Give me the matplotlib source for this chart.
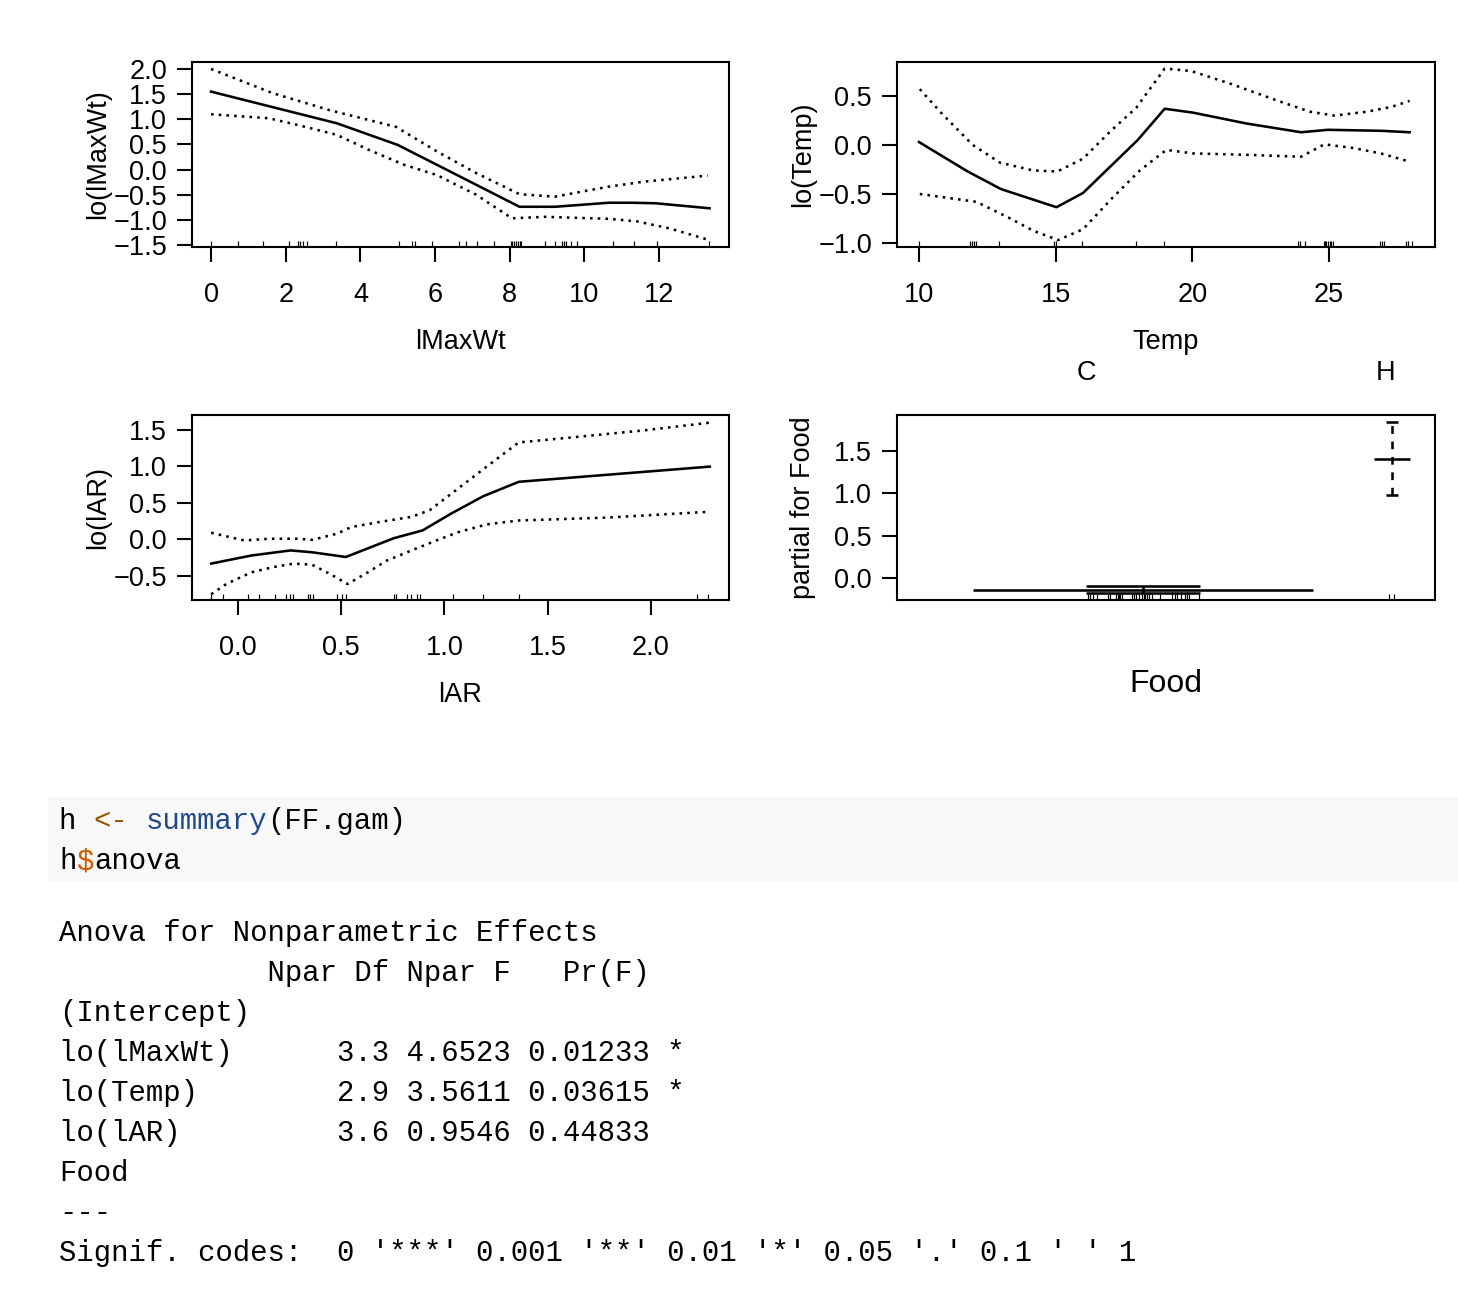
import matplotlib
matplotlib.use("Agg")
import matplotlib.pyplot as plt
from matplotlib.patches import Rectangle
import matplotlib.transforms as mtrans

W, H = 1458, 1310
DPI = 100

# ---------------- data ----------------
lmaxwt_fit_x = [0, 3.37, 5.0, 8.26, 9.21, 10.65, 11.3, 11.9, 13.35]
lmaxwt_fit = [1.55, 0.92, 0.49, -0.74, -0.74, -0.66, -0.66, -0.67, -0.77]
lmaxwt_up_x = [0, 1.65, 3.18, 4.95, 6.05, 7.1, 8.26, 9.2, 10.65, 11.6, 13.3]
lmaxwt_up = [2.0, 1.52, 1.18, 0.85, 0.36, -0.07, -0.49, -0.54, -0.34, -0.24, -0.12]
lmaxwt_lo_x = [0, 1.55, 2.3, 3.37, 4.23, 5.19, 6.05, 7.1, 8.06, 8.93, 10.65, 11.4, 12.28, 13.33]
lmaxwt_lo = [1.1, 1.02, 0.89, 0.69, 0.39, 0.09, -0.11, -0.5, -0.97, -0.94, -0.98, -1.03, -1.17, -1.4]
lmaxwt_rug = [0, 0.71, 1.40, 2.08, 2.32, 2.39, 2.46, 2.58, 3.34, 5.02, 5.38, 5.45, 5.91,
              6.63, 6.82, 7.11, 7.57, 8.03, 8.07, 8.12, 8.17, 8.22, 8.28, 8.31, 8.93, 9.2,
              9.41, 9.45, 9.5, 9.65, 9.81, 10.77, 11.32, 11.94, 13.33]
lmaxwt_xticks = [0, 2, 4, 6, 8, 10, 12]
lmaxwt_yticks = [-1.5, -1.0, -0.5, 0.0, 0.5, 1.0, 1.5, 2.0]

temp_fit_x = [10, 11.78, 13.0, 15.03, 16.0, 18.0, 18.99, 20.03, 21.97, 23.98, 24.96, 26.9, 27.95]
temp_fit = [0.03, -0.27, -0.45, -0.635, -0.49, 0.05, 0.37, 0.33, 0.22, 0.13, 0.155, 0.145, 0.13]
temp_up_x = [10.03, 10.87, 11.97, 12.96, 14.18, 15.06, 16.0, 17.04, 17.95, 18.47, 18.99, 19.96,
             21.45, 23.14, 24.3, 25.2, 26.4, 27.3, 27.95]
temp_up = [0.57, 0.31, 0.0, -0.18, -0.26, -0.27, -0.14, 0.15, 0.38, 0.58, 0.78, 0.755,
           0.62, 0.45, 0.34, 0.30, 0.34, 0.39, 0.45]
temp_lo_x = [10.03, 12.1, 13.27, 14.18, 15.09, 16.0, 17.04, 18.08, 19.05, 20.03, 21.97, 23.98,
             24.83, 25.87, 26.9, 27.95]
temp_lo = [-0.50, -0.58, -0.74, -0.875, -0.97, -0.86, -0.55, -0.26, -0.05, -0.086, -0.10, -0.12,
           0.007, -0.03, -0.086, -0.17]
temp_rug = [10, 11.87, 11.95, 12.01, 12.08, 12.92, 14.94, 15.0, 15.96, 17.95, 18.96, 23.86,
            23.95, 24.12, 24.81, 24.86, 24.91, 24.96, 25.03, 25.09, 25.16, 26.88, 26.94, 27.01,
            27.82, 27.88, 28.05]
temp_xticks = [10, 15, 20, 25]
temp_yticks = [-1.0, -0.5, 0.0, 0.5]

lar_fit_x = [-0.13, 0.064, 0.254, 0.358, 0.522, 0.755, 0.894, 1.032, 1.188, 1.36, 2.285]
lar_fit = [-0.33, -0.22, -0.15, -0.175, -0.24, 0.018, 0.124, 0.354, 0.593, 0.79, 0.998]
lar_up_x = [-0.13, 0.03, 0.15, 0.29, 0.36, 0.48, 0.548, 0.686, 0.84, 0.928, 1.067, 1.205, 1.36,
            1.533, 1.965, 2.285]
lar_up = [0.092, -0.014, 0.01, 0.01, -0.005, 0.08, 0.17, 0.24, 0.31, 0.40, 0.70, 1.0, 1.33,
          1.375, 1.494, 1.60]
lar_lo_x = [-0.13, -0.057, 0.064, 0.168, 0.27, 0.358, 0.444, 0.53, 0.617, 0.72, 0.84, 0.96,
            1.067, 1.205, 1.36, 1.79, 2.285]
lar_lo = [-0.75, -0.61, -0.45, -0.38, -0.33, -0.345, -0.47, -0.61, -0.47, -0.29, -0.15, -0.014,
          0.10, 0.207, 0.26, 0.30, 0.38]
lar_rug = [-0.13, -0.074, 0.047, 0.102, 0.181, 0.233, 0.254, 0.268, 0.34, 0.349, 0.361, 0.479,
           0.505, 0.522, 0.755, 0.767, 0.819, 0.838, 0.868, 0.88, 1.04, 1.188, 1.36, 2.225, 2.277]
lar_xticks = [0.0, 0.5, 1.0, 1.5, 2.0]
lar_yticks = [-0.5, 0.0, 0.5, 1.0, 1.5]

food_levels = ["C", "H"]
food_fit = [-0.138, 1.41]
food_upper = [-0.092, 1.84]
food_lower = [-0.183, 0.984]
food_rug = [0.3545, 0.3594, 0.3643, 0.3717, 0.3915, 0.3964, 0.4063, 0.4100, 0.4125, 0.4149,
            0.4174, 0.4365, 0.4408, 0.4445, 0.4495, 0.4557, 0.4594, 0.4618, 0.4643, 0.4692,
            0.4742, 0.4890, 0.5112, 0.5161, 0.5210, 0.5272, 0.5346, 0.5383, 0.5433, 0.5605,
            0.914, 0.924]
food_yticks = [0.0, 0.5, 1.0, 1.5]

code_lines = [
    [("h ", "#000000"), ("<-", "#8f5902"), (" ", "#000000"), ("summary", "#204a87"), ("(FF.gam)", "#000000")],
    [("h", "#000000"), ("$", "#ce5c00"), ("anova", "#000000")],
]
output_lines = [
    "Anova for Nonparametric Effects",
    "            Npar Df Npar F   Pr(F)",
    "(Intercept)",
    "lo(lMaxWt)      3.3 4.6523 0.01233 *",
    "lo(Temp)        2.9 3.5611 0.03615 *",
    "lo(lAR)         3.6 0.9546 0.44833",
    "Food",
    "---",
    "Signif. codes:  0 '***' 0.001 '**' 0.01 '*' 0.05 '.' 0.1 ' ' 1",
]

# ---------------- style ----------------
SANS = ["Liberation Sans", "DejaVu Sans"]
MONO = ["Liberation Mono", "DejaVu Sans Mono"]
TICK_FS = 19.5
LAB_FS = 19.5
LW = 1.5      # axis / tick width, pt
DLW = 1.85    # data line width, pt
px = 72.0 / DPI  # points per pixel

fig = plt.figure(figsize=(W / DPI, H / DPI), dpi=DPI)
fig.patch.set_facecolor("white")


def make_ax(l, r, t, b):
    return fig.add_axes([l / W, 1 - b / H, (r - l) / W, (b - t) / H])


def style(ax, xlim, ylim, xticks, yticks, xlabel, ylabel, box_w, box_h):
    ax.set_xlim(*xlim)
    ax.set_ylim(*ylim)
    for s in ax.spines.values():
        s.set_linewidth(LW)
    ax.tick_params(axis="both", direction="out", length=15 * px, width=LW,
                   labelsize=TICK_FS, top=False, right=False)
    ax.tick_params(axis="x", pad=20 * px)
    ax.tick_params(axis="y", pad=10 * px)
    if xticks is not None:
        ax.set_xticks(xticks)
        ax.set_xticklabels([str(v) for v in xticks])
    ax.set_yticks(yticks)
    ax.set_yticklabels([f"{v:.1f}".replace("-", "\u2212") for v in yticks])
    for lab in ax.get_xticklabels() + ax.get_yticklabels():
        lab.set_family(SANS)
    if xlabel:
        ax.set_xlabel(xlabel, fontsize=LAB_FS, family=SANS)
        ax.xaxis.label.set_va("center")
        ax.xaxis.set_label_coords(0.5, -95 / box_h)
    ax.set_ylabel(ylabel, fontsize=LAB_FS, family=SANS)
    ax.yaxis.label.set_va("center")
    ax.yaxis.set_label_coords(-94 / box_w, 0.5)


def rug(ax, xs):
    tr = mtrans.blended_transform_factory(ax.transData, ax.transAxes)
    ax.vlines(xs, 0, 0.03, transform=tr, color="black", linewidth=1.2 * px)


DOT = (0, (1, 2))


def smooth_panel(ax, fx, fy, ux, uy, lx, ly):
    ax.plot(fx, fy, color="black", lw=DLW, solid_joinstyle="round")
    ax.plot(ux, uy, color="black", lw=DLW, linestyle=DOT)
    ax.plot(lx, ly, color="black", lw=DLW, linestyle=DOT)


# Panel 1: lMaxWt
ax1 = make_ax(192, 729, 62, 247)
smooth_panel(ax1, lmaxwt_fit_x, lmaxwt_fit, lmaxwt_up_x, lmaxwt_up, lmaxwt_lo_x, lmaxwt_lo)
rug(ax1, lmaxwt_rug)
style(ax1, (-0.51, 13.87), (-1.54, 2.139), lmaxwt_xticks, lmaxwt_yticks,
      "lMaxWt", "lo(lMaxWt)", 537, 185)

# Panel 2: Temp
ax2 = make_ax(897, 1435, 62, 247)
smooth_panel(ax2, temp_fit_x, temp_fit, temp_up_x, temp_up, temp_lo_x, temp_lo)
rug(ax2, temp_rug)
style(ax2, (9.195, 28.88), (-1.041, 0.847), temp_xticks, temp_yticks,
      "Temp", "lo(Temp)", 538, 185)

# Panel 3: lAR
ax3 = make_ax(192, 729, 415, 600)
smooth_panel(ax3, lar_fit_x, lar_fit, lar_up_x, lar_up, lar_lo_x, lar_lo)
rug(ax3, lar_rug)
style(ax3, (-0.223, 2.378), (-0.829, 1.705), lar_xticks, lar_yticks,
      "lAR", "lo(lAR)", 537, 185)
ax3.set_xticklabels([f"{v:.1f}" for v in lar_xticks])
for lab in ax3.get_xticklabels():
    lab.set_family(SANS)

# Panel 4: Food
ax4 = make_ax(897, 1435, 415, 600)
food_center = [0.457, 0.920]
fit_half = [0.3165, 0.0335]
ci_half = [0.1055, 0.011]
for i in range(len(food_levels)):
    c = food_center[i]
    ax4.hlines(food_fit[i], c - fit_half[i], c + fit_half[i], color="black", lw=DLW)
    ax4.hlines([food_upper[i], food_lower[i]], c - ci_half[i], c + ci_half[i],
               color="black", lw=DLW)
    ax4.vlines(c, food_lower[i], food_upper[i], color="black", lw=DLW,
               linestyle=(0, (3, 3)) if i == 1 else "-")
rug(ax4, food_rug)
style(ax4, (0, 1), (-0.26, 1.925), None, food_yticks, None, "partial for Food", 538, 185)
ax4.set_xticks([0.352, 0.909])
ax4.set_xticklabels(food_levels)
ax4.xaxis.set_ticks_position("top")
ax4.tick_params(axis="x", length=0, pad=29 * px, labelsize=TICK_FS, top=True, bottom=False)
for lab in ax4.get_xticklabels():
    lab.set_family(SANS)
ax4.text(0.5, -84 / 185, "Food", transform=ax4.transAxes, ha="center", va="center",
         fontsize=23, family=SANS)

# ---------------- code block ----------------
fig.add_artist(Rectangle((48 / W, 1 - 882 / H), (W - 48) / W, 85 / H,
                         transform=fig.transFigure, facecolor="#f8f8f8",
                         edgecolor="none", zorder=0))
CHAR = 17.38
MONO_FS = CHAR / 0.6 * px
code_y = [821, 861]
for line, yy in zip(code_lines, code_y):
    col = 0
    for seg, colr in line:
        fig.text((59 + col * CHAR) / W, 1 - yy / H, seg, color=colr, family=MONO,
                 fontsize=MONO_FS, ha="left", va="center")
        col += len(seg)

for i, line in enumerate(output_lines):
    yy = 933 + 40 * i
    fig.text(59 / W, 1 - yy / H, line, color="black", family=MONO,
             fontsize=MONO_FS, ha="left", va="center")

fig.savefig("out.png", dpi=DPI, facecolor="white")
